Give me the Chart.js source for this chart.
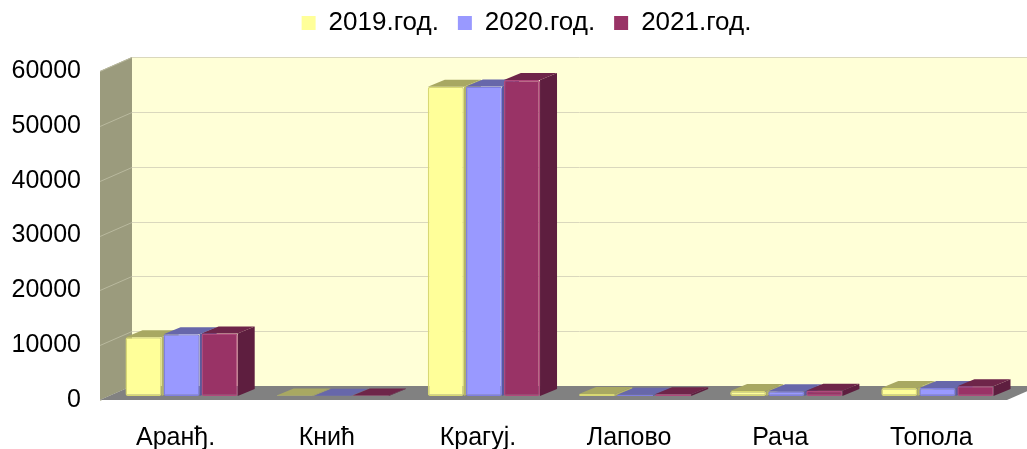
<!DOCTYPE html>
<html>
<head>
<meta charset="utf-8">
<script src="https://cdn.jsdelivr.net/npm/chart.js@4/dist/chart.umd.min.js"></script>
<style>
  html, body { margin: 0; padding: 0; background: #fff; }
</style>
</head>
<body>
<canvas id="chart" width="1027" height="449"></canvas>
<script>
const categories = ['Аранђ.', 'Кнић', 'Крагуј.', 'Лапово', 'Рача', 'Топола'];
const seriesNames = ['2019.год.', '2020.год.', '2021.год.'];
const values2019 = [10700, 90, 56400, 350, 900, 1450];
const values2020 = [11250, 60, 56450, 250, 850, 1450];
const values2021 = [11400, 110, 57650, 300, 950, 1800];
const yTicks = [0, 10000, 20000, 30000, 40000, 50000, 60000];

// fake 3d: offsets of the front edge and back wall relative to the bar plane
const FRONT = { x: -6, y: 4 };
const BACK = { x: 26, y: -10 };
const DEPTH = { x: 17, y: -7 };

const frontColors = ['#ffff99', '#9999ff', '#993366'];
const edgeColors = ['#d8d873', '#7f7fe0', '#b04a7c'];
const topColors = ['#a8a862', '#6767aa', '#6e2549'];
const sideColors = ['#b4b468', '#5a5a9c', '#5e1e3f'];

function poly(ctx, pts, fill) {
    ctx.beginPath();
    ctx.moveTo(pts[0][0], pts[0][1]);
    for (let i = 1; i < pts.length; i++) ctx.lineTo(pts[i][0], pts[i][1]);
    ctx.closePath();
    ctx.fillStyle = fill;
    ctx.fill();
}

const box3d = {
    id: 'box3d',
    afterLayout(chart) {
        // nudge the legend to where it sits in the original
        chart.legend.top = -9;
        chart.legend.left += 20;
        chart.legend.right += 20;
    },
    beforeDatasetsDraw(chart) {
        const { ctx, chartArea: a, scales: { y } } = chart;
        const W = chart.width;
        ctx.save();

        // back wall
        ctx.fillStyle = '#ffffd7';
        ctx.fillRect(a.left + BACK.x, a.top + BACK.y, W, a.bottom - a.top);

        // side wall
        poly(ctx, [
            [a.left + FRONT.x, a.top + FRONT.y],
            [a.left + BACK.x, a.top + BACK.y],
            [a.left + BACK.x, a.bottom + BACK.y],
            [a.left + FRONT.x, a.bottom + FRONT.y]
        ], '#9b9b7d');

        // grid lines on both walls
        ctx.lineWidth = 1;
        yTicks.forEach(v => {
            const py = Math.round(y.getPixelForValue(v)) + 0.5;
            ctx.strokeStyle = '#dad8bd';
            ctx.beginPath();
            ctx.moveTo(a.left + BACK.x, py + BACK.y);
            ctx.lineTo(W, py + BACK.y);
            ctx.stroke();
            ctx.strokeStyle = '#b9b99e';
            ctx.beginPath();
            ctx.moveTo(a.left + FRONT.x, py + FRONT.y);
            ctx.lineTo(a.left + BACK.x, py + BACK.y);
            ctx.stroke();
        });

        // floor
        poly(ctx, [
            [a.left + FRONT.x, a.bottom + FRONT.y],
            [a.right + FRONT.x, a.bottom + FRONT.y],
            [a.right + BACK.x, a.bottom + BACK.y],
            [a.left + BACK.x, a.bottom + BACK.y]
        ], '#818181');

        // tops and right sides of the bars
        chart.data.datasets.forEach((ds, i) => {
            const meta = chart.getDatasetMeta(i);
            meta.data.forEach(bar => {
                const p = bar.getProps(['x', 'y', 'base', 'width'], true);
                const x0 = p.x - p.width / 2;
                const x1 = p.x + p.width / 2;
                poly(ctx, [
                    [x1, p.y], [x1 + DEPTH.x, p.y + DEPTH.y],
                    [x1 + DEPTH.x, p.base + DEPTH.y], [x1, p.base]
                ], sideColors[i]);
                poly(ctx, [
                    [x0, p.y], [x1, p.y],
                    [x1 + DEPTH.x, p.y + DEPTH.y], [x0 + DEPTH.x, p.y + DEPTH.y]
                ], topColors[i]);
            });
        });
        ctx.restore();
    }
};

const family = '"Liberation Sans", Arial, sans-serif';
Chart.defaults.color = '#000';

const seriesValues = [values2019, values2020, values2021];

new Chart(document.getElementById('chart'), {
    type: 'bar',
    data: {
        labels: categories,
        datasets: seriesNames.map((name, i) => ({
            label: name,
            data: seriesValues[i],
            backgroundColor: frontColors[i],
            borderColor: edgeColors[i],
            borderWidth: 1.5,
            borderSkipped: false,
            borderRadius: 2,
            categoryPercentage: 0.755,
            barPercentage: 0.95
        }))
    },
    options: {
        responsive: false,
        animation: false,
        layout: { padding: { top: 12, right: 14, left: 0, bottom: 0 } },
        plugins: {
            legend: {
                position: 'top',
                labels: {
                    font: { family, size: 26 },
                    boxWidth: 14,
                    boxHeight: 14,
                    padding: 19,
                    generateLabels(chart) {
                        return Chart.defaults.plugins.legend.labels.generateLabels(chart).map(item => {
                            item.lineWidth = 0;
                            item.strokeStyle = item.fillStyle;
                            return item;
                        });
                    }
                }
            },
            tooltip: { enabled: false }
        },
        scales: {
            x: {
                grid: { display: false, drawTicks: false },
                border: { display: false },
                ticks: { font: { family, size: 25 }, padding: 27, labelOffset: -6 },
                afterFit(scale) { scale.height = 53; }
            },
            y: {
                min: 0,
                max: 60000,
                grid: { display: false, drawTicks: false },
                border: { display: false },
                ticks: {
                    font: { family, size: 25 },
                    padding: 25,
                    labelOffset: 4,
                    stepSize: 10000,
                    callback: v => String(v)
                },
                afterFit(scale) { scale.width = 106; }
            }
        }
    },
    plugins: [box3d]
});
</script>
</body>
</html>
